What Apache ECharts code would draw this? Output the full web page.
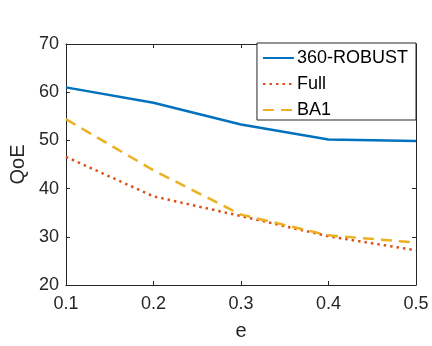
<!DOCTYPE html>
<html>
<head>
<meta charset="utf-8">
<script src="https://cdn.jsdelivr.net/npm/echarts@6/dist/echarts.min.js"></script>
<style>
  html, body { margin: 0; padding: 0; background: #fff; }
  #chart { width: 432px; height: 346px; }
</style>
</head>
<body>
<div id="chart"></div>
<script>
// x values (e)
const eValues = [0.1, 0.2, 0.3, 0.4, 0.5];
// QoE per method
const robust = [61.0, 57.8, 53.3, 50.2, 49.9];
const full = [46.6, 38.4, 34.3, 30.1, 27.2];
const ba1 = [54.4, 43.8, 34.6, 30.3, 28.8];

const font = 'Liberation Sans, Arial, Helvetica, sans-serif';
const textColor = '#262626';

const pair = (ys) => eValues.map((x, i) => [x, ys[i]]);

const chart = echarts.init(document.getElementById('chart'));

const boxAxis = {
  axisLine: { show: true, lineStyle: { color: '#262626', width: 1 } },
  axisTick: { show: true, inside: true, length: 4, lineStyle: { color: '#262626' } },
  axisLabel: { show: false },
  splitLine: { show: false },
};

chart.setOption({
  animation: false,
  grid: { left: 64, right: 16, top: 44, bottom: 60 },
  legend: {
    orient: 'vertical',
    right: 16,
    top: 43,
    // hide the marker dot, keep the line sample
    itemStyle: { opacity: 0 },
    backgroundColor: '#fff',
    borderColor: '#262626',
    borderWidth: 1,
    borderRadius: 0,
    padding: [6, 8, 1, 5],
    itemWidth: 31,
    itemHeight: 12,
    itemGap: 8,
    textStyle: { fontFamily: font, fontSize: 18, color: '#000', padding: [0, 0, 0, -2] },
    data: ['360-ROBUST', 'Full', 'BA1'],
  },
  xAxis: [
    {
      type: 'value',
      min: 0.1,
      max: 0.5,
      interval: 0.1,
      name: 'e',
      nameLocation: 'middle',
      nameGap: 36,
      nameTextStyle: { fontFamily: font, fontSize: 20, color: textColor },
      axisLine: { show: true, lineStyle: { color: '#262626', width: 1 } },
      axisTick: { show: true, inside: true, length: 4, lineStyle: { color: '#262626' } },
      axisLabel: { fontFamily: font, fontSize: 18, color: textColor, margin: 10,
        formatter: (v) => v.toFixed(1) },
      splitLine: { show: false },
    },
    Object.assign({ type: 'value', position: 'top', min: 0.1, max: 0.5, interval: 0.1 }, boxAxis),
  ],
  yAxis: [
    {
      type: 'value',
      min: 20,
      max: 70,
      interval: 10,
      name: 'QoE',
      nameLocation: 'middle',
      nameGap: 36,
      nameTextStyle: { fontFamily: font, fontSize: 20, color: textColor },
      axisLine: { show: true, lineStyle: { color: '#262626', width: 1 } },
      axisTick: { show: true, inside: true, length: 4, lineStyle: { color: '#262626' } },
      axisLabel: { fontFamily: font, fontSize: 18, color: textColor, margin: 7 },
      splitLine: { show: false },
    },
    Object.assign({ type: 'value', position: 'right', min: 20, max: 70, interval: 10 }, boxAxis),
  ],
  series: [
    {
      name: '360-ROBUST',
      type: 'line',
      data: pair(robust),
      symbol: 'none',
      lineStyle: { color: '#0072BD', width: 2.5 },
      itemStyle: { color: '#0072BD' },
    },
    {
      name: 'Full',
      type: 'line',
      data: pair(full),
      symbol: 'none',
      lineStyle: { color: '#D95319', width: 2.5, type: [2.5, 4] },
      itemStyle: { color: '#D95319' },
    },
    {
      name: 'BA1',
      type: 'line',
      data: pair(ba1),
      symbol: 'none',
      lineStyle: { color: '#EDB120', width: 2.5, type: [11, 7] },
      itemStyle: { color: '#EDB120' },
    },
  ],
});
</script>
</body>
</html>
